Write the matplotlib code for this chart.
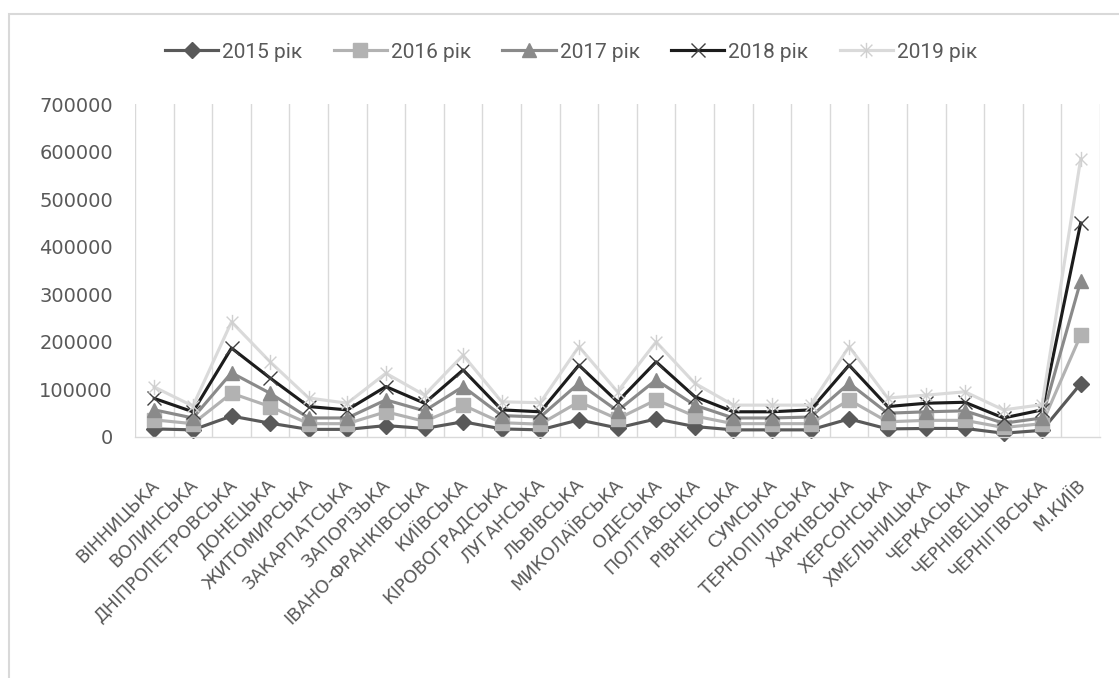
import matplotlib.pyplot as plt
from matplotlib.path import Path
from matplotlib.patches import Rectangle
from matplotlib.transforms import ScaledTranslation
from matplotlib.ticker import StrMethodFormatter
import numpy as np

regions = ["ВІННИЦЬКА", "ВОЛИНСЬКА", "ДНІПРОПЕТРОВСЬКА", "ДОНЕЦЬКА", "ЖИТОМИРСЬКА",
           "ЗАКАРПАТСЬКА", "ЗАПОРІЗЬКА", "ІВАНО-ФРАНКІВСЬКА", "КИЇВСЬКА", "КІРОВОГРАДСЬКА",
           "ЛУГАНСЬКА", "ЛЬВІВСЬКА", "МИКОЛАЇВСЬКА", "ОДЕСЬКА", "ПОЛТАВСЬКА",
           "РІВНЕНСЬКА", "СУМСЬКА", "ТЕРНОПІЛЬСЬКА", "ХАРКІВСЬКА", "ХЕРСОНСЬКА",
           "ХМЕЛЬНИЦЬКА", "ЧЕРКАСЬКА", "ЧЕРНІВЕЦЬКА", "ЧЕРНІГІВСЬКА", "М.КИЇВ"]

y2015 = [17000, 15000, 44000, 29000, 16000, 16000, 24000, 18000, 32000, 17000,
         15000, 36000, 19000, 38000, 22000, 15000, 15000, 15000, 38000, 17000,
         18000, 18000, 8000, 14000, 112000]
y2016 = [36000, 28000, 92000, 64000, 28000, 28000, 53000, 33000, 67000, 30000,
         27000, 74000, 38000, 78000, 44000, 28000, 28000, 28000, 78000, 32000,
         35000, 35000, 20000, 28000, 214000]
y2017 = [57000, 40000, 135000, 92000, 40000, 40000, 78000, 55000, 106000, 45000,
         42000, 113000, 55000, 120000, 67000, 40000, 40000, 42000, 113000, 50000,
         53000, 55000, 29000, 40000, 328000]
y2018 = [81000, 53000, 187000, 124000, 64000, 57000, 106000, 71000, 141000, 57000,
         53000, 151000, 74000, 158000, 85000, 53000, 53000, 57000, 151000, 64000,
         71000, 73000, 40000, 57000, 450000]
y2019 = [105000, 65000, 242000, 158000, 82000, 71000, 134000, 88000, 172000, 74000,
         72000, 190000, 95000, 200000, 113000, 67000, 67000, 67000, 190000, 82000,
         88000, 95000, 57000, 68000, 585000]

# excel-like star: X with a vertical bar
star = Path([(-1, -1), (1, 1), (-1, 1), (1, -1), (0, -1.3), (0, 1.3)],
            [Path.MOVETO, Path.LINETO, Path.MOVETO, Path.LINETO, Path.MOVETO, Path.LINETO])

fig = plt.figure(figsize=(11.19, 6.78), dpi=100)
ax = fig.add_axes([135 / 1119, 1 - 437 / 678, 965 / 1119, 333 / 678])

x = np.arange(len(regions))
ax.plot(x, y2015, color='#595959', lw=2.25, marker='D', ms=8.5, label="2015 рік", clip_on=False)
ax.plot(x, y2016, color='#b2b2b2', lw=2.25, marker='s', ms=10.5, label="2016 рік", clip_on=False)
ax.plot(x, y2017, color='#8a8a8a', lw=2.25, marker='^', ms=10.5, label="2017 рік", clip_on=False)
ax.plot(x, y2018, color='#1c1c1c', lw=2.25, marker='x', ms=10.5, mec='#404040', mew=1.0,
        label="2018 рік", clip_on=False)
ax.plot(x, y2019, color='#dadada', lw=2.25, marker=star, ms=11, mec='#d0d0d0', mew=1.0,
        label="2019 рік", clip_on=False)

ax.set_xlim(-0.5, len(regions) - 0.5)
ax.set_ylim(0, 700000)
ax.set_yticks(range(0, 700001, 100000))
ax.yaxis.set_major_formatter(StrMethodFormatter('{x:.0f}'))
ax.tick_params(axis='y', length=0, pad=16, labelsize=14, labelcolor='#595959')
ax.set_xticks(x)
ax.set_xticklabels([])
ax.tick_params(axis='x', length=0)
ax.set_xticks(np.arange(-0.5, len(regions)), minor=True)
ax.tick_params(axis='x', which='minor', length=0)
ax.grid(True, which='minor', axis='x', color='#d9d9d9', lw=1)
ax.grid(False, which='major')
for s in ['top', 'left', 'right']:
    ax.spines[s].set_visible(False)
ax.spines['bottom'].set_color('#d9d9d9')
ax.spines['bottom'].set_linewidth(1)

# rotated category labels, top-right end hangs below each point
off = ScaledTranslation(-0.04, -0.39, fig.dpi_scale_trans)
for i, name in enumerate(regions):
    ax.text(i, 0, name, transform=ax.transData + off, rotation=45, rotation_mode='anchor',
            ha='right', va='top', fontsize=13, color='#595959')

fig.legend(loc='center', bbox_to_anchor=(571 / 1119, 1 - 52 / 678), ncol=5, frameon=False,
           prop={'family': 'Roboto', 'size': 15}, labelcolor='#595959',
           handlelength=2.55, handletextpad=0.2, columnspacing=1.5, numpoints=1)

fig.add_artist(Rectangle((9 / 1119, -0.1), 1.2, 1 - 14 / 678 + 0.1, transform=fig.transFigure,
                         fill=False, edgecolor='#d9d9d9', lw=1.5))

fig.savefig('out.png', dpi=100)
